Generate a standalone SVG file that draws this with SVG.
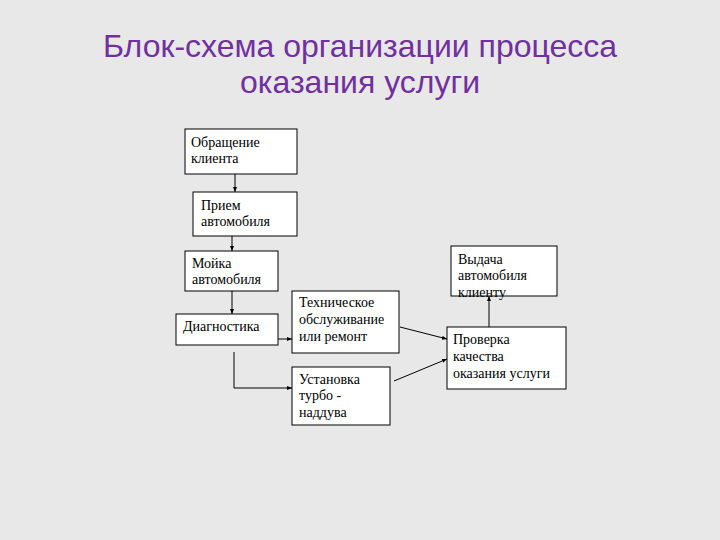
<svg xmlns="http://www.w3.org/2000/svg" width="720" height="540" viewBox="0 0 720 540">
<style>
.bg{fill:#e8e8e8}
.box{fill:#ffffff;stroke:#000;stroke-width:1}
.t{font-family:"Liberation Serif","Times New Roman",serif;font-size:14px;fill:#000}
.title{font-family:"Liberation Sans",Arial,sans-serif;font-size:32px;fill:#7030a0;text-anchor:middle}
.c{fill:none;stroke:#000;stroke-width:1}
</style>
<defs>
<marker id="ah" viewBox="0 0 10 10" refX="10" refY="5" markerWidth="5" markerHeight="5" orient="auto" markerUnits="userSpaceOnUse">
<path d="M0,1 L10,5 L0,9 z" fill="#000"/>
</marker>
</defs>
<rect class="bg" x="0" y="0" width="720" height="540"/>
<g id="title">
<text class="title" x="360" y="57">Блок-схема организации процесса</text>
<text class="title" x="360" y="93">оказания услуги</text>
</g>
<g id="connectors">
<path class="c" d="M235,174 L235,192" marker-end="url(#ah)"/>
<path class="c" d="M232,236 L232,251" marker-end="url(#ah)"/>
<path class="c" d="M232,291 L232,314" marker-end="url(#ah)"/>
<path class="c" d="M278,339 L292,339" marker-end="url(#ah)"/>
<path class="c" d="M234,352 L234,388 L292,388" marker-end="url(#ah)"/>
<path class="c" d="M400,327 L447,339" marker-end="url(#ah)"/>
<path class="c" d="M394,381 L447,359" marker-end="url(#ah)"/>
<path class="c" d="M489,327 L489,296" marker-end="url(#ah)"/>
</g>
<g id="n1">
<rect class="box" x="185" y="129" width="112" height="45"/>
<text class="t" x="191" y="147">Обращение</text>
<text class="t" x="191" y="163">клиента</text>
</g>
<g id="n2">
<rect class="box" x="193" y="192" width="104" height="44"/>
<text class="t" x="201" y="210">Прием</text>
<text class="t" x="201" y="226">автомобиля</text>
</g>
<g id="n3">
<rect class="box" x="185" y="251" width="93" height="40"/>
<text class="t" x="192" y="268">Мойка</text>
<text class="t" x="192" y="284">автомобиля</text>
</g>
<g id="n4">
<rect class="box" x="176" y="314" width="102" height="31"/>
<text class="t" x="183" y="331">Диагностика</text>
</g>
<g id="n5">
<rect class="box" x="292" y="291" width="107" height="62"/>
<text class="t" x="299" y="307">Техническое</text>
<text class="t" x="299" y="324">обслуживание</text>
<text class="t" x="299" y="341">или ремонт</text>
</g>
<g id="n6">
<rect class="box" x="292" y="367" width="98" height="58"/>
<text class="t" x="299" y="384">Установка</text>
<text class="t" x="299" y="400">турбо -</text>
<text class="t" x="299" y="417">наддува</text>
</g>
<g id="n7">
<rect class="box" x="451" y="246" width="106" height="50"/>
<text class="t" x="458" y="264">Выдача</text>
<text class="t" x="458" y="280">автомобиля</text>
<text class="t" x="458" y="297">клиенту</text>
</g>
<g id="n8">
<rect class="box" x="447" y="327" width="119" height="62"/>
<text class="t" x="453" y="344">Проверка</text>
<text class="t" x="453" y="361">качества</text>
<text class="t" x="453" y="378">оказания услуги</text>
</g>
</svg>
